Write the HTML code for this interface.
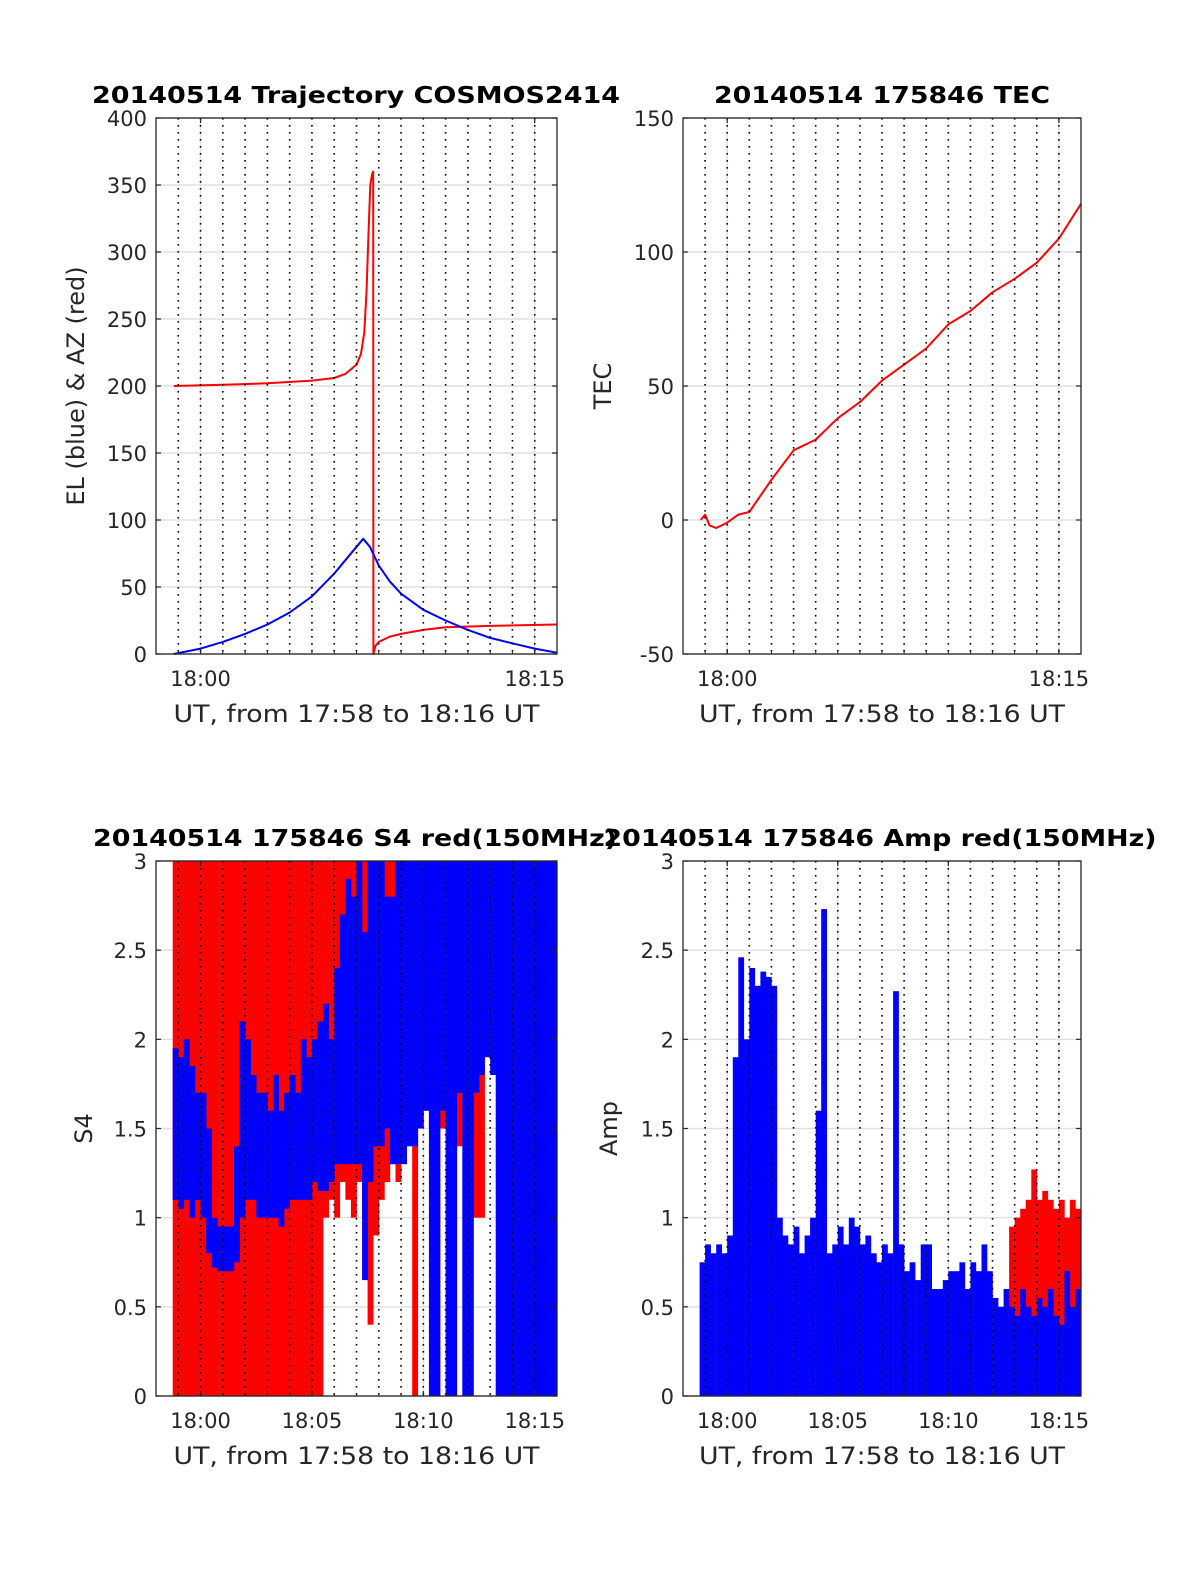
<!DOCTYPE html>
<html><head><meta charset="utf-8"><style>
html,body{margin:0;padding:0;background:#fff;}
svg{display:block;font-family:"DejaVu Sans","Liberation Sans",sans-serif;}
</style></head><body>
<svg id="fig" width="1200" height="1575" viewBox="0 0 1200 1575" xmlns="http://www.w3.org/2000/svg"></svg>
<script>
// ---------- data (time in minutes from 17:58) ----------
const elT = [0.8,2,3,4,5,6,7,8,8.5,9,9.3,9.6,10,10.5,11,12,13,14,15,16,17,18];
const elV = [0,4,9,15,22,31,43,60,70,80,86,80,66,54,45,33,25,18,12,8,4,1];
const azT = [0.8,3,5,7,8,8.5,9,9.2,9.35,9.45,9.55,9.62,9.7,9.75,9.76,9.85,10,10.5,11,12,13,15,18];
const azV = [200,201,202,204,206,209,216,224,240,270,320,350,358,360,0,6,9,13,15,18,20,21,22];
const tecT = [0.8,1.0,1.2,1.5,2,2.5,3,4,5,6,7,8,9,10,11,12,13,14,15,16,17,18];
const tecV = [0,2,-2,-3,-1,2,3,15,26,30,38,44,52,58,64,73,78,85,90,96,105,118];
// binned S4 / Amp (bins of 0.25 min starting at 0.75)
const binStart = 0.75, binW = 0.25;
const s4BlueLo = [1.1,1.05,1.1,1.0,1.1,1.0,0.8,0.72,0.7,0.7,0.7,0.75,1.0,1.1,1.1,1.0,1.0,1.0,1.0,0.95,1.05,1.1,1.1,1.1,1.1,1.2,1.15,1.15,1.2,1.3,1.3,1.3,1.3,1.3,0.65,1.2,1.4,1.4,1.5,1.3,1.3,1.3,1.4,1.4,1.5,1.6,0,0.0,1.6,0,0,1.7,0,0,1.7,1.8,1.9,1.8,0,0,0,0,0,0,0,0,0,0,0];
const s4BlueHi = [1.95,1.9,2.0,1.85,1.7,1.7,1.5,1.0,0.95,0.95,0.95,1.4,2.1,2.0,1.8,1.7,1.7,1.6,1.8,1.6,1.7,1.8,1.7,2.0,1.9,2.0,2.1,2.2,2.0,2.4,2.7,2.9,2.8,3.0,2.6,3.0,3,3,2.8,2.8,3,3,3,3,3,3,3,3,3,3,3,3,3,3,3,3,3,3,3,3,3,3,3,3,3,3,3,3,3];
const s4RedLo = [0,0,0,0,0,0,0,0,0,0,0,0,0,0,0,0,0,0,0,0,0,0,0,0,0,0,0,1.0,1.1,1.0,1.2,1.1,1.0,1.2,1.0,0.4,0.9,1.1,1.2,1.3,1.2,1.4,1.5,0,1.5,1.6,1.5,1.6,1.5,1.6,0,1.4,1.6,1.5,1.0,1.0,0,0,0,0,0,0,0,0,0,0,0,0,0];
const s4RedHi = [3,3,3,3,3,3,3,3,3,3,3,3,3,3,3,3,3,3,3,3,3,3,3,3,3,3,3,3,3,3,3,3,3,3,3,3,3,3,3,3,3,3,3,3,3,3,3,3,3,3,3,3,3,3,3,3,0,0,0,0,0,0,0,0,0,0,0,0,0];
const ampBlue = [0.75,0.85,0.8,0.85,0.8,0.9,1.9,2.46,2.0,2.4,2.3,2.38,2.35,2.3,1.0,0.9,0.85,0.95,0.8,0.9,1.0,1.6,2.73,0.8,0.85,0.95,0.85,1.0,0.95,0.85,0.9,0.8,0.75,0.85,0.8,2.27,0.85,0.7,0.75,0.65,0.85,0.85,0.6,0.6,0.65,0.7,0.7,0.75,0.6,0.75,0.7,0.85,0.7,0.55,0.5,0.6,0.5,0.45,0.6,0.5,0.45,0.55,0.5,0.6,0.45,0.4,0.7,0.5,0.6];
const ampRed = [0,0,0,0,0,0,0,0,0,0,0,0,0,0,0,0,0,0,0,0,0,0,0,0,0,0,0,0,0,0,0,0,0,0,0,0,0,0,0,0,0,0.7,0.6,0,0,0,0,0,0,0,0,0,0,0,0,0,0.95,1.0,1.05,1.1,1.27,1.1,1.15,1.1,1.05,1.1,1.0,1.1,1.05];
const xTicksTop = [2,17], xTickLabelsTop = ["18:00","18:15"];
const xTicksBot = [2,7,12,17], xTickLabelsBot = ["18:00","18:05","18:10","18:15"];
const yTicksTraj = [0,50,100,150,200,250,300,350,400];
const yTicksTec = [-50,0,50,100,150];
const yTicksS4 = [0,0.5,1,1.5,2,2.5,3];
const yTickLabelsS4 = ["0","0.5","1","1.5","2","2.5","3"];

const NS = "http://www.w3.org/2000/svg";
const svg = document.getElementById('fig');
function mk(tag, attrs, parent){
  const e = document.createElementNS(NS, tag);
  for (const k in attrs) e.setAttribute(k, attrs[k]);
  (parent||svg).appendChild(e);
  return e;
}
function panel(o){
  const g = mk('g', {});
  
  
  const X = t => o.x0 + (t/18)*(o.x1-o.x0);
  const Y = v => o.y1 - (v-o.ymin)/(o.ymax-o.ymin)*(o.y1-o.y0);
  o.yTicks.forEach(v => {
    const l = mk('line', {x1:o.x0,x2:o.x1,y1:Y(v),y2:Y(v),stroke:'#e0e0e0','stroke-width':1.5}, g);
    
    
  });
  o.xTicks.forEach(t => {
    const l = mk('line', {x1:X(t),x2:X(t),y1:o.y0,y2:o.y1,stroke:'#e0e0e0','stroke-width':1.5}, g);
    
    
  });
  o.draw(X,Y,g);
  for (let m=1;m<=17;m++){
    const l = mk('line', {x1:X(m),x2:X(m),y1:o.y0,y2:o.y1,stroke:'#000','stroke-width':1.6,'stroke-dasharray':'1.6 5.4'}, g);
    
    
  }
  const b = mk('rect', {x:o.x0,y:o.y0,width:o.x1-o.x0,height:o.y1-o.y0,fill:'none',stroke:'#262626','stroke-width':1.3}, g);
  
  
  o.yTicks.forEach((v,i) => {
    mk('line',{x1:o.x0,x2:o.x0+5,y1:Y(v),y2:Y(v),stroke:'#262626','stroke-width':1.2},g);
    mk('line',{x1:o.x1,x2:o.x1-5,y1:Y(v),y2:Y(v),stroke:'#262626','stroke-width':1.2},g);
    const t = mk('text',{x:o.x0-9,y:Y(v)+8,'text-anchor':'end','font-size':21,fill:'#262626'},g);
    t.textContent = o.yLabels ? o.yLabels[i] : String(v);
    
    
  });
  o.xTicks.forEach((m,i) => {
    mk('line',{x1:X(m),x2:X(m),y1:o.y1,y2:o.y1-5,stroke:'#262626','stroke-width':1.2},g);
    mk('line',{x1:X(m),x2:X(m),y1:o.y0,y2:o.y0+5,stroke:'#262626','stroke-width':1.2},g);
    const t = mk('text',{x:X(m),y:o.y1+32,'text-anchor':'middle','font-size':21,fill:'#262626'},g);
    t.textContent = o.xLabels[i];
    
    
  });
  for (let m=0;m<=18;m++){
    mk('line',{x1:X(m),x2:X(m),y1:o.y1,y2:o.y1-3,stroke:'#262626','stroke-width':1},g);
  }
  const tt = mk('text',{x:o.titleX,y:o.y0-15,'text-anchor':'middle','font-size':23,'font-weight':'bold',fill:'#000',textLength:o.titleW,lengthAdjust:'spacingAndGlyphs'},g);
  tt.textContent = o.title;
  
  
  const xl = mk('text',{x:(o.x0+o.x1)/2,y:o.y1+68,'text-anchor':'middle','font-size':24,fill:'#262626',textLength:366,lengthAdjust:'spacingAndGlyphs'},g);
  xl.textContent = 'UT, from 17:58 to 18:16 UT';
  
  
  const yx = o.yTitleX, yy=(o.y0+o.y1)/2;
  const yl = mk('text',{x:yx,y:yy,'text-anchor':'middle','font-size':24,fill:'#262626',transform:`rotate(-90 ${yx} ${yy})`},g);
  yl.textContent = o.yTitle;
  
  
}
function line(T,V,X,Y,g,color,name){
  const d = T.map((t,i)=>(i?'L':'M')+X(t).toFixed(1)+' '+Y(V[i]).toFixed(1)).join(' ');
  const p = mk('path',{d,fill:'none',stroke:color,'stroke-width':2,'stroke-linejoin':'round'},g);
  
  
}
function bars(lo,hi,X,Y,g,color,name){
  const grp = mk('g',{},g);
  
  
  hi.forEach((h,i)=>{
    const l = lo ? lo[i] : 0;
    if (h<=l) return;
    const t = binStart + i*binW;
    const x = X(t), w = X(t+binW)-x;
    const r = mk('rect',{x:x.toFixed(1),y:Y(h).toFixed(1),width:(w+0.3).toFixed(1),height:(Y(l)-Y(h)).toFixed(1),fill:color},grp);
    
    
  });
}
panel({name:'trajectory-chart',x0:156,x1:557,y0:118,y1:654,ymin:0,ymax:400,yTicks:yTicksTraj,
  xTicks:xTicksTop,xLabels:xTickLabelsTop,title:'20140514 Trajectory COSMOS2414',titleX:356,titleW:528,
  yTitle:'EL (blue) & AZ (red)',yTitleX:84,
  draw:(X,Y,g)=>{ line(azT,azV,X,Y,g,'#ff0000','azimuth-line'); line(elT,elV,X,Y,g,'#0000ff','elevation-line'); }});
panel({name:'tec-chart',x0:683,x1:1081,y0:118,y1:654,ymin:-50,ymax:150,yTicks:yTicksTec,
  xTicks:xTicksTop,xLabels:xTickLabelsTop,title:'20140514 175846 TEC',titleX:882,titleW:336,
  yTitle:'TEC',yTitleX:611,
  draw:(X,Y,g)=>{ line(tecT,tecV,X,Y,g,'#ff0000','tec-line'); }});
panel({name:'s4-chart',x0:156,x1:557,y0:861,y1:1396,ymin:0,ymax:3,yTicks:yTicksS4,yLabels:yTickLabelsS4,
  xTicks:xTicksBot,xLabels:xTickLabelsBot,title:'20140514 175846 S4 red(150MHz)',titleX:355,titleW:524,
  yTitle:'S4',yTitleX:92,
  draw:(X,Y,g)=>{ bars(s4RedLo,s4RedHi,X,Y,g,'#ff0000','s4-red'); bars(s4BlueLo,s4BlueHi,X,Y,g,'#0000ff','s4-blue'); }});
panel({name:'amp-chart',x0:683,x1:1081,y0:861,y1:1396,ymin:0,ymax:3,yTicks:yTicksS4,yLabels:yTickLabelsS4,
  xTicks:xTicksBot,xLabels:xTickLabelsBot,title:'20140514 175846 Amp red(150MHz)',titleX:880,titleW:553,
  yTitle:'Amp',yTitleX:617,
  draw:(X,Y,g)=>{ bars(null,ampRed,X,Y,g,'#ff0000','amp-red'); bars(null,ampBlue,X,Y,g,'#0000ff','amp-blue'); }});
</script>
</body></html>
